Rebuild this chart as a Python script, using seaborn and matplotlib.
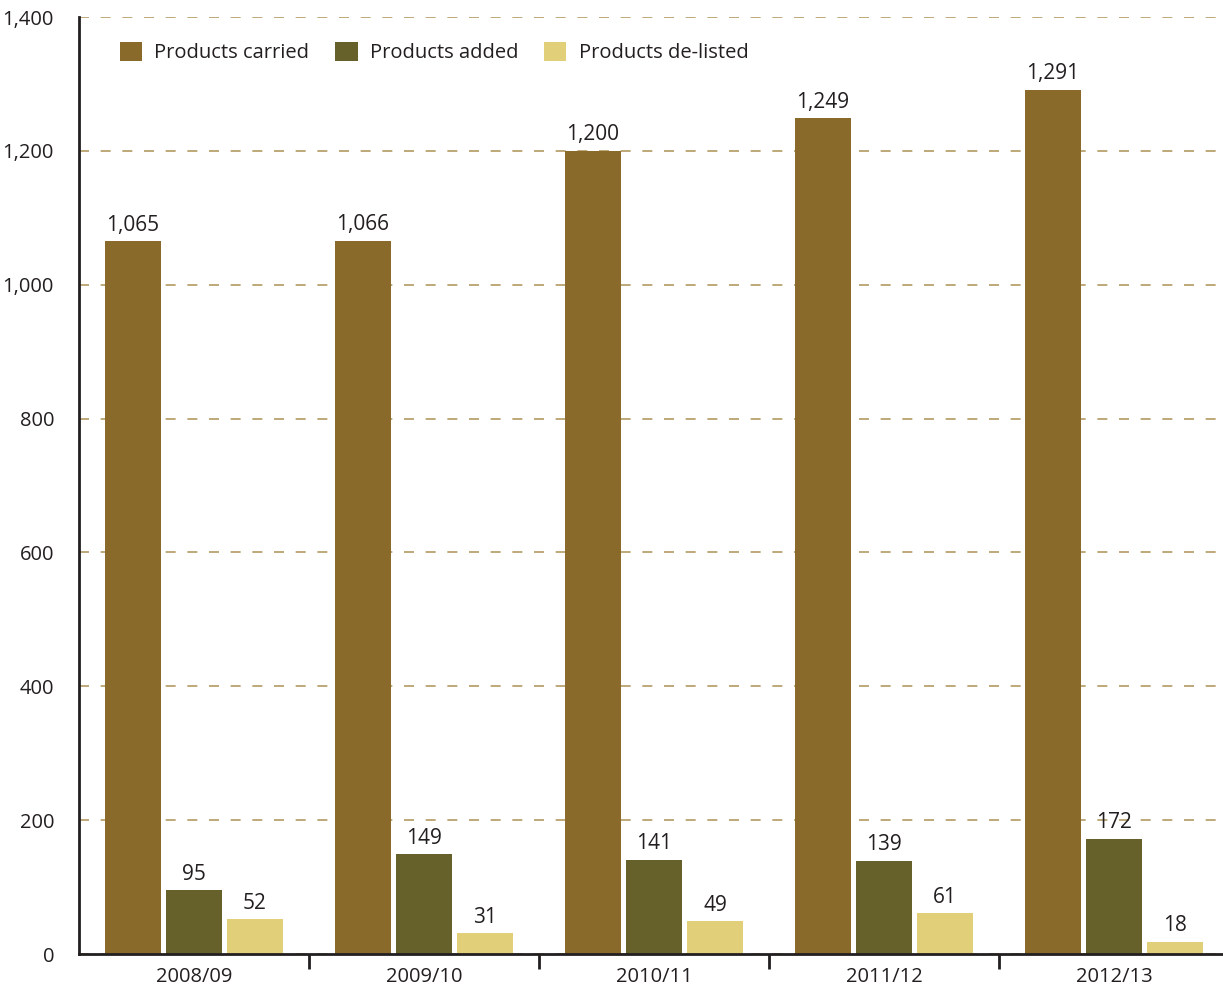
import matplotlib
matplotlib.use("Agg")
import matplotlib.pyplot as plt
import seaborn as sns
import pandas as pd
from matplotlib.ticker import FixedLocator, FuncFormatter
from matplotlib.patches import Patch

years = ["2008/09", "2009/10", "2010/11", "2011/12", "2012/13"]
series = ["Products carried", "Products added", "Products de-listed"]
carried = [1065, 1066, 1200, 1249, 1291]
added = [95, 149, 141, 139, 172]
delisted = [52, 31, 49, 61, 18]
colors = ["#8a6a2b", "#66612b", "#e2cf7a"]

df = pd.DataFrame({
    "year": years * 3,
    "series": [series[0]] * 5 + [series[1]] * 5 + [series[2]] * 5,
    "value": carried + added + delisted,
})

sns.set_theme(style="white")
plt.rcParams["font.family"] = ["Open Sans", "DejaVu Sans"]
text_color = "#231f20"

W, H = 1223, 988
fig = plt.figure(figsize=(W / 100, H / 100), dpi=100)
ax = fig.add_axes([79 / W, 1 - 954 / H, 1144 / W, 937 / H])

sns.barplot(data=df, x="year", y="value", hue="series", order=years,
            hue_order=series, palette=colors, width=0.795, gap=0.08,
            saturation=1, ax=ax, legend=False, zorder=3,
            linewidth=0, edgecolor="none")

ax.set_xlim(-0.5, -0.5 + 1144 / 230)
ax.set_ylim(0, 1400)
ax.set_yticks(range(0, 1401, 200))
ax.yaxis.set_major_formatter(FuncFormatter(lambda v, p: f"{int(v):,}"))
ax.grid(axis="y", color="#b39a62", linestyle=(0, (6, 7)), linewidth=1.2, zorder=0)
ax.grid(axis="x", visible=False)

for c in ax.containers:
    ax.bar_label(c, labels=[f"{int(v):,}" for v in c.datavalues], padding=4,
                 fontsize=15, color=text_color)

for s in ["top", "right"]:
    ax.spines[s].set_visible(False)
for s in ["left", "bottom"]:
    ax.spines[s].set_color(text_color)
    ax.spines[s].set_linewidth(2)
    ax.spines[s].set_zorder(4)

ax.tick_params(axis="y", length=0, pad=18, labelsize=14.5, labelcolor=text_color)
ax.tick_params(axis="x", which="major", length=0, pad=9, labelsize=14.5, labelcolor=text_color)
ax.xaxis.set_minor_locator(FixedLocator([0.5, 1.5, 2.5, 3.5]))
ax.tick_params(axis="x", which="minor", bottom=True, length=11, width=2,
               color=text_color, direction="out")
ax.set_xlabel("")
ax.set_ylabel("")

handles = [Patch(facecolor=col, edgecolor="none") for col in colors]
ax.legend(handles, series, loc="upper left", bbox_to_anchor=(0.02, 0.993), ncol=3,
          frameon=False, fontsize=14.5, handlelength=1.1, handleheight=1.1,
          handletextpad=0.6, columnspacing=1.3, labelcolor=text_color)

fig.savefig("out.png", dpi=100)
